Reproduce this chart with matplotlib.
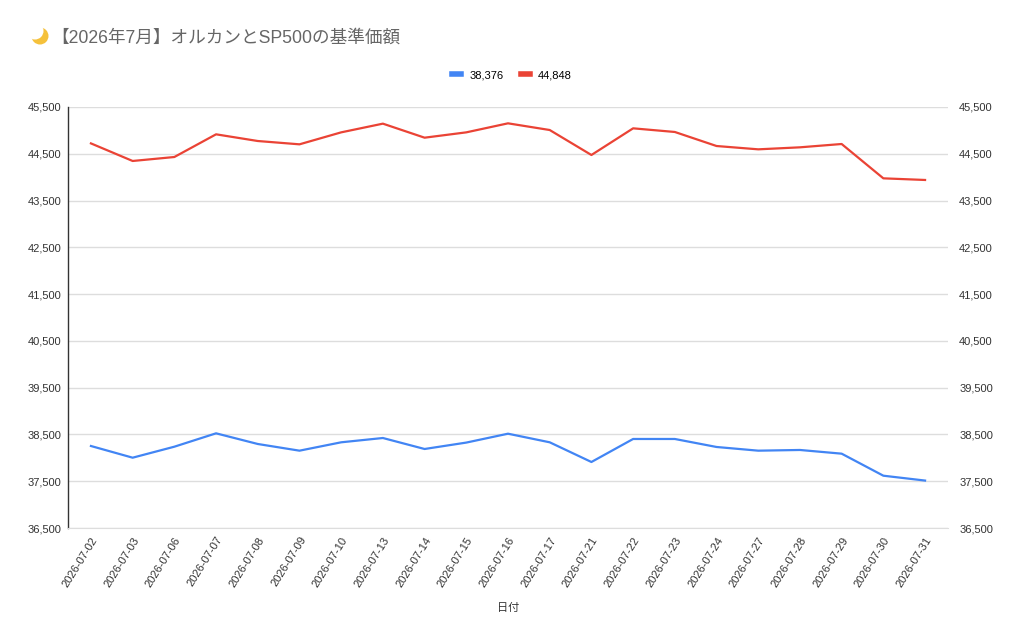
import matplotlib
matplotlib.use('Agg')
import matplotlib.pyplot as plt
from matplotlib.patches import Circle
from matplotlib.transforms import IdentityTransform

plt.rcParams['font.family'] = ['Liberation Sans', 'Noto Sans CJK JP', 'DejaVu Sans']

# dates and base prices
dates = ['2026-07-02', '2026-07-03', '2026-07-06', '2026-07-07', '2026-07-08',
         '2026-07-09', '2026-07-10', '2026-07-13', '2026-07-14', '2026-07-15',
         '2026-07-16', '2026-07-17', '2026-07-21', '2026-07-22', '2026-07-23',
         '2026-07-24', '2026-07-27', '2026-07-28', '2026-07-29', '2026-07-30',
         '2026-07-31']
orukan = [38253, 38003, 38238, 38524, 38296, 38153, 38332, 38424, 38189, 38326,
          38516, 38332, 37911, 38403, 38403, 38232, 38153, 38168, 38089, 37618,
          37514]
sp500 = [44722, 44346, 44431, 44916, 44773, 44702, 44958, 45144, 44844, 44958,
         45151, 45008, 44474, 45044, 44966, 44666, 44595, 44638, 44709, 43975,
         43940]
series_names = ['38,376', '44,848']
yticks = [36500, 37500, 38500, 39500, 40500, 41500, 42500, 43500, 44500, 45500]

fig = plt.figure(figsize=(10.24, 6.34), dpi=100)
ax = fig.add_axes([68/1024, 1-528/634, 880/1024, 421/634])

x = range(len(dates))
ax.plot(x, orukan, color='#4285F4', lw=1.6, label=series_names[0])
ax.plot(x, sp500, color='#EA4335', lw=1.6, label=series_names[1])

ax.set_ylim(36500, 45500)
ax.set_xlim(-0.55, len(dates) - 0.45)
ax.set_yticks(yticks)
ax.set_yticklabels([f'{v:,}' for v in yticks], fontsize=8, color='#333333')
ax.set_xticks(list(x))
ax.set_xticklabels(dates, rotation=58, ha='right', rotation_mode='anchor',
                   fontsize=8, color='#333333')
ax.tick_params(length=0, pad=5)
ax.grid(axis='y', color='#dddddd', lw=1)
for s in ['top', 'right']:
    ax.spines[s].set_visible(False)
ax.spines['bottom'].set_color('#dddddd')
ax.spines['left'].set_color('#333333')
ax.spines['left'].set_linewidth(1)

ax2 = ax.twinx()
ax2.set_ylim(36500, 45500)
ax2.set_yticks(yticks)
ax2.set_yticklabels([f'{v:,}' for v in yticks], fontsize=8, color='#333333')
ax2.tick_params(length=0, pad=8)
for s in ax2.spines.values():
    s.set_visible(False)

ax.set_xlabel('日付', fontsize=8, color='#333333', labelpad=10)

fig.legend(loc='center', bbox_to_anchor=(512/1024, 1-75/634), ncol=2,
           frameon=False, fontsize=8, handlelength=0.8, handletextpad=0.7,
           columnspacing=1.6)
for h in fig.legends[0].get_lines():
    h.set_linewidth(4)

# crescent moon (no installed font has the emoji glyph)
H = 634
fig.patches.append(Circle((40, H - 36), 8.5, transform=IdentityTransform(),
                          facecolor='#f5c13b', edgecolor='none'))
fig.patches.append(Circle((35, H - 31), 8.5, transform=IdentityTransform(),
                          facecolor='white', edgecolor='none'))
fig.text(51/1024, 1-38/634, '【2026年7月】オルカンとSP500の基準価額',
         fontsize=12.7, va='center', color='#666666')

fig.savefig('out.png', dpi=100)
